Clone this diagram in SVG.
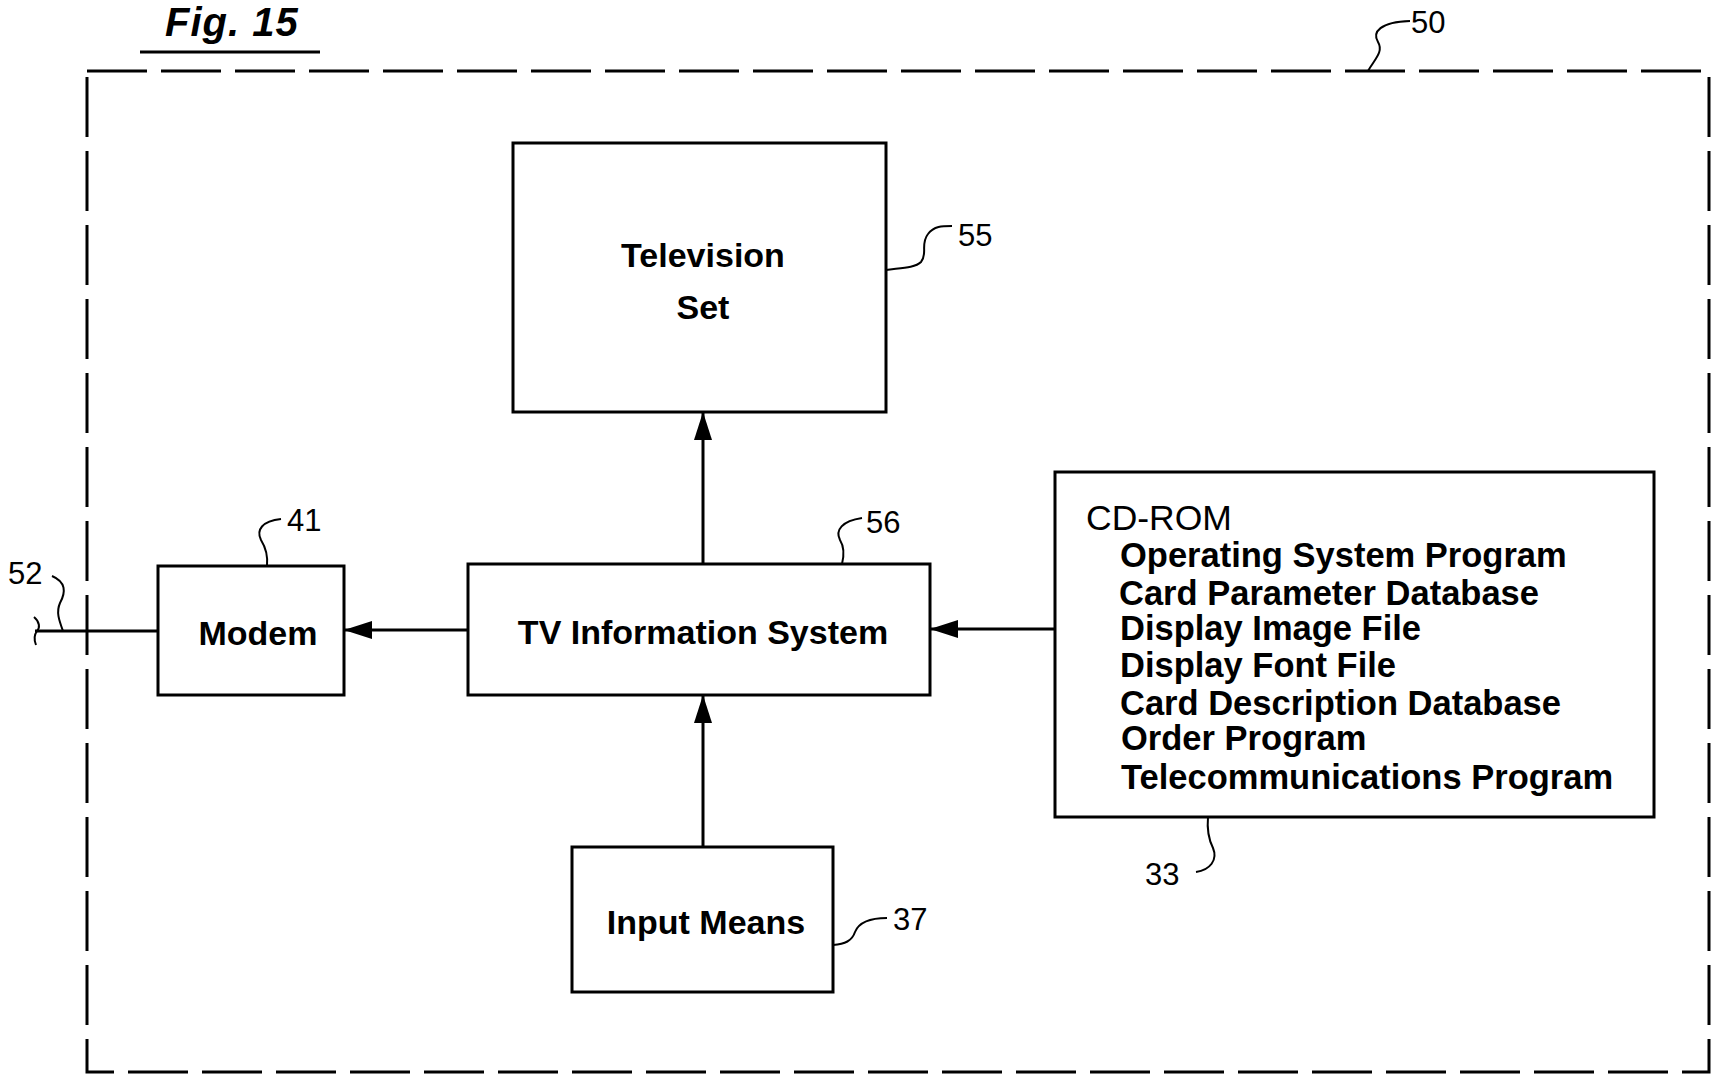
<svg xmlns="http://www.w3.org/2000/svg" width="1718" height="1074" viewBox="0 0 1718 1074">
<style>
.box{fill:#fff;stroke:#000;stroke-width:3}
.frame{fill:none;stroke:#000;stroke-width:3;stroke-dasharray:60 14}
.conn{fill:none;stroke:#000;stroke-width:3}
.lead{fill:none;stroke:#000;stroke-width:2}
.t{font-family:"Liberation Sans",Arial,sans-serif;font-weight:bold;font-size:34px;fill:#000}
.tl{font-family:"Liberation Sans",Arial,sans-serif;font-weight:bold;font-size:34.5px;fill:#000}
.tr{font-family:"Liberation Sans",Arial,sans-serif;font-size:35.5px;fill:#000}
.num{font-family:"Liberation Sans",Arial,sans-serif;font-size:31px;fill:#000}
.fig{font-family:"Liberation Sans",Arial,sans-serif;font-weight:bold;font-style:italic;font-size:40px;letter-spacing:1px;fill:#000}
</style>
<defs>
<marker id="arr" markerUnits="userSpaceOnUse" markerWidth="28" markerHeight="18" viewBox="0 0 28 18" refX="28" refY="9" orient="auto">
<path d="M0,0 L28,9 L0,18 Z" fill="#000"/>
</marker>
</defs>
<rect width="1718" height="1074" fill="#fff"/>

<g id="title">
<text class="fig" x="165" y="36">Fig. 15</text>
<line x1="140" y1="52" x2="320" y2="52" stroke="#000" stroke-width="3"/>
</g>

<g id="n50">
<rect class="frame" x="87" y="71" width="1622" height="1001"/>
<path class="lead" d="M1368,71 C1374,60 1384,52 1378,42 C1372,32 1380,22 1410,21"/>
<text class="num" x="1411" y="33">50</text>
</g>

<g id="connectors">
<line class="conn" x1="703" y1="564" x2="703" y2="412" marker-end="url(#arr)"/>
<line class="conn" x1="468" y1="630" x2="344" y2="630" marker-end="url(#arr)"/>
<line class="conn" x1="1055" y1="629" x2="930" y2="629" marker-end="url(#arr)"/>
<line class="conn" x1="703" y1="847" x2="703" y2="695" marker-end="url(#arr)"/>
<line class="conn" x1="35" y1="631" x2="158" y2="631"/>
<path class="lead" d="M34,617 C40,622 40,628 37,631 C34,635 34,640 36,645"/>
</g>

<g id="n55">
<rect class="box" x="513" y="143" width="373" height="269"/>
<text class="t" x="703" y="267" text-anchor="middle">Television</text>
<text class="t" x="703" y="319" text-anchor="middle">Set</text>
<path class="lead" d="M886,270 C900,268 915,268 921,262 C928,254 920,244 928,234 C934,226 942,226 952,226"/>
<text class="num" x="958" y="246">55</text>
</g>

<g id="n41">
<rect class="box" x="158" y="566" width="186" height="129"/>
<text class="t" x="258" y="645" text-anchor="middle">Modem</text>
<path class="lead" d="M267,566 C268,556 266,548 261,540 C256,530 262,521 281,519"/>
<text class="num" x="287" y="531">41</text>
</g>

<g id="n52">
<path class="lead" d="M63,631 C59,620 56,612 60,603 C66,592 66,582 52,576"/>
<text class="num" x="8" y="584">52</text>
</g>

<g id="n56">
<rect class="box" x="468" y="564" width="462" height="131"/>
<text class="t" x="703" y="644" text-anchor="middle">TV Information System</text>
<path class="lead" d="M842,564 C844,556 845,548 840,540 C835,530 842,521 862,518"/>
<text class="num" x="866" y="533">56</text>
</g>

<g id="n33">
<rect class="box" x="1055" y="472" width="599" height="345"/>
<text class="tr" x="1086" y="530">CD-ROM</text>
<text class="tl" x="1120" y="567">Operating System Program</text>
<text class="tl" x="1119" y="605">Card Parameter Database</text>
<text class="tl" x="1120" y="640">Display Image File</text>
<text class="tl" x="1120" y="677">Display Font File</text>
<text class="tl" x="1120" y="715">Card Description Database</text>
<text class="tl" x="1121" y="750">Order Program</text>
<text class="tl" x="1121" y="789">Telecommunications Program</text>
<path class="lead" d="M1208,817 C1207,828 1208,838 1213,848 C1218,860 1210,870 1196,872"/>
<text class="num" x="1145" y="885">33</text>
</g>

<g id="n37">
<rect class="box" x="572" y="847" width="261" height="145"/>
<text class="t" x="706" y="934" text-anchor="middle">Input Means</text>
<path class="lead" d="M833,945 C845,944 852,941 855,932 C859,922 870,918 887,918"/>
<text class="num" x="893" y="930">37</text>
</g>
</svg>
